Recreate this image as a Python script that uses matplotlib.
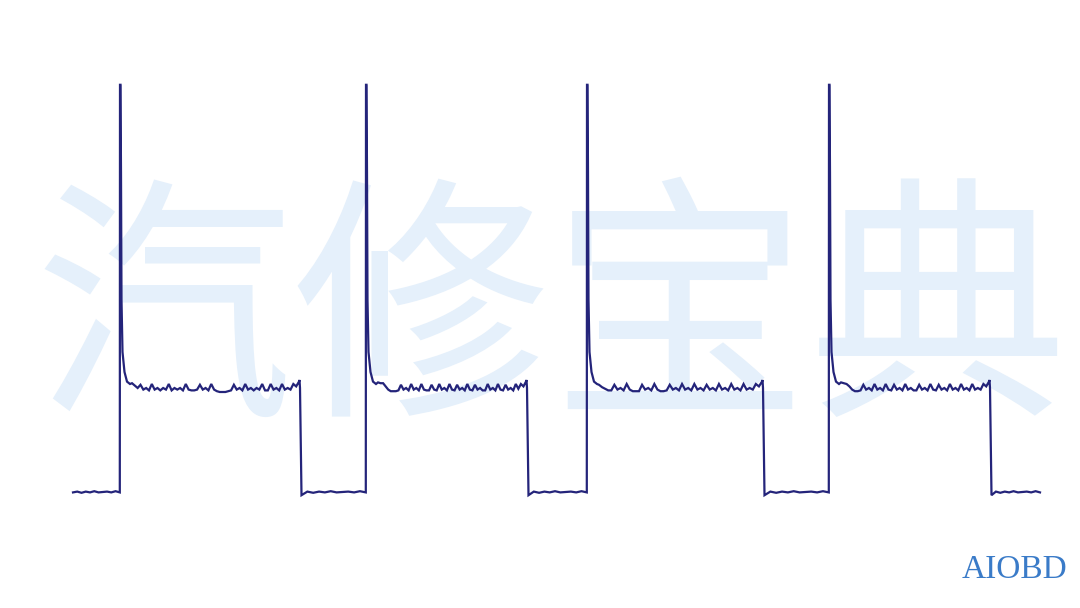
import numpy as np
import matplotlib
matplotlib.use("Agg")
import matplotlib.pyplot as plt

# ---- data (time in ms, signal in V) ----
trace_start_ms = 0.0
trace_end_ms = 96.7
pulse_rise_ms = [4.7, 29.3, 51.4, 75.6]
pulse_fall_ms = [22.7, 45.4, 69.0, 91.7]
peak_v = [50.9, 50.9, 50.9, 50.9]

# decay after the spike: (offset ms from rise, volts)
decay_offset_ms = [0.05, 0.10, 0.15, 0.25, 0.45, 0.70, 1.00]
decay_v = [50.9, 39.9, 24.0, 17.5, 15.0, 13.8, 13.5]

# plateau ripple (volts), one list per pulse
plateau_p1 = [13.6, 13.3, 13.0, 13.4, 12.8, 13.0, 12.7, 13.5, 12.8, 13.0, 12.7, 13.0,
              12.8, 13.5, 12.7, 13.0, 12.8, 13.0, 12.7, 13.5, 12.8, 12.7, 12.7, 12.8,
              13.4, 12.8, 13.0, 12.7, 13.5, 12.8, 12.6, 12.5, 12.5, 12.5, 12.6, 12.7,
              13.4, 12.8, 13.0, 12.7, 13.5, 12.8, 13.0, 12.7, 13.0, 12.8, 13.5, 12.7,
              12.7, 13.5, 12.8, 13.0, 12.7, 13.5, 12.8, 13.0, 12.8, 13.5, 13.2, 13.8]
plateau_p2 = [13.7, 13.6, 13.6, 13.2, 12.8, 12.6, 12.6, 12.6, 12.7, 13.4, 12.8, 13.0,
              12.7, 13.5, 12.8, 13.0, 12.7, 13.5, 12.8, 12.7, 12.7, 13.4, 12.8, 12.7,
              13.5, 12.8, 13.0, 12.7, 13.5, 12.8, 12.7, 13.4, 12.8, 13.0, 12.7, 13.5,
              12.8, 12.7, 13.4, 12.8, 13.0, 12.7, 12.7, 13.5, 12.8, 13.0, 12.7, 13.5,
              12.8, 12.7, 13.4, 12.8, 13.0, 12.7, 13.5, 12.9, 13.5, 13.2, 13.8]
plateau_p3 = [13.4, 13.1, 12.9, 12.7, 12.7, 13.4, 12.8, 13.0, 12.7, 13.5, 12.8, 12.6,
              12.6, 12.6, 13.4, 12.8, 13.0, 12.7, 13.5, 12.8, 12.6, 12.6, 12.7, 13.4,
              12.8, 13.0, 12.7, 13.5, 12.8, 13.0, 12.7, 13.5, 12.8, 13.0, 12.7, 13.4,
              12.8, 13.0, 12.7, 13.5, 12.8, 13.0, 12.7, 13.5, 12.8, 13.0, 12.7, 13.5,
              12.8, 13.0, 12.8, 13.5, 13.2, 13.8]
plateau_p4 = [13.7, 13.6, 13.5, 13.2, 12.8, 12.6, 12.6, 12.7, 13.4, 12.8, 13.0, 12.7,
              13.5, 12.8, 13.0, 12.7, 13.5, 12.8, 12.7, 13.4, 12.8, 13.0, 12.7, 13.5,
              12.8, 13.0, 12.7, 12.7, 13.4, 12.8, 13.0, 12.7, 13.5, 12.8, 12.7, 13.4,
              12.8, 13.0, 12.7, 13.5, 12.8, 13.0, 12.7, 13.5, 12.8, 13.0, 12.7, 13.5,
              12.8, 13.0, 12.8, 13.5, 13.2, 13.8]
plateaus = [plateau_p1, plateau_p2, plateau_p3, plateau_p4]

# baseline ripple (volts) between pulses
baseline_v = [-0.05, 0.05, -0.1, 0.05, -0.05, 0.1, -0.05, 0.0, 0.05, -0.05, 0.1, -0.05]
fall_spike_v = 14.0
undershoot_v = -0.4

watermark = "汽修宝典"
brand = "AIOBD"

# ---- build the trace from the values ----
t, v = [], []

def add_baseline(t0, t1, first_undershoot=False):
    n = len(baseline_v)
    ts = np.linspace(t0, t1, n)
    vals = list(baseline_v)
    if first_undershoot:
        vals[0] = undershoot_v
    t.extend(ts)
    v.extend(vals)

add_baseline(trace_start_ms, pulse_rise_ms[0] - 0.02)
for i in range(4):
    r = pulse_rise_ms[i]
    f = pulse_fall_ms[i]
    t.append(r)
    v.append(peak_v[i])
    for dt, dv in zip(decay_offset_ms, decay_v):
        t.append(r + dt)
        v.append(dv)
    pl = plateaus[i]
    ts = np.linspace(r + 1.2, f - 0.1, len(pl))
    t.extend(ts)
    v.extend(pl)
    t.append(f - 0.05)
    v.append(fall_spike_v)
    t.append(f)
    v.append(fall_spike_v - 1.0)
    nxt = pulse_rise_ms[i + 1] - 0.02 if i < 3 else trace_end_ms
    add_baseline(f + 0.15, nxt, first_undershoot=True)

# ---- draw ----
W, H, DPI = 1080, 608, 100
fig = plt.figure(figsize=(W / DPI, H / DPI), dpi=DPI)
fig.patch.set_facecolor("white")
ax = fig.add_axes([0, 0, 1, 1])
ax.set_facecolor("white")
# pixel x = 73 + 10*t ; pixel y = 492 - 8*v
ax.set_xlim(-7.3, 100.7)
ax.set_ylim(-14.5, 61.5)
ax.axis("off")

ax.text(0.510, 0.470, watermark, ha="center", va="center", fontsize=186,
        fontweight="medium", color="#e5f0fb",
        family=["Noto Sans CJK SC", "DejaVu Sans"], transform=ax.transAxes, zorder=0)

ax.plot(t, v, color="#24247a", linewidth=1.6, solid_joinstyle="miter", zorder=3)

ax.text(1015 / W, 1 - 570 / H, brand, ha="center", va="center", fontsize=24,
        color="#3a7bc8", family=["Liberation Serif", "DejaVu Serif"],
        transform=ax.transAxes, zorder=4)

fig.savefig("out.png", dpi=DPI, facecolor="white")
